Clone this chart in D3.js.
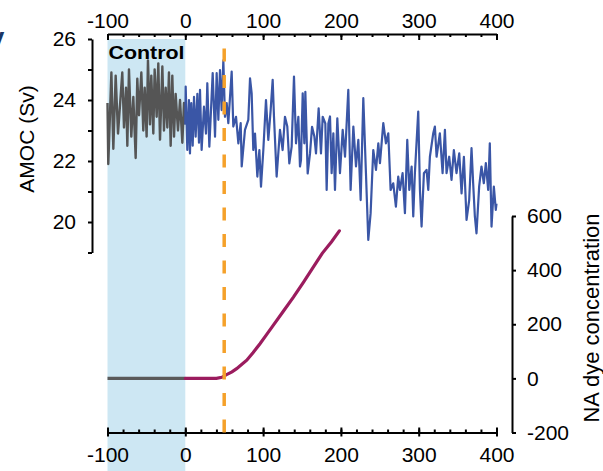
<!DOCTYPE html>
<html>
<head>
<meta charset="utf-8">
<script src="https://cdn.jsdelivr.net/npm/d3@7"></script>
<style>
  body { margin: 0; background: #fff; }
  svg text { font-family: "Liberation Sans", Arial, sans-serif; }
</style>
</head>
<body>
<div id="chart"></div>
<script>
// control run (years before perturbation), AMOC in Sv
var ctrlYear = [-100,-99,-95,-92.5,-89.5,-86.5,-81,-78.8,-76.2,-74.5,-72.4,-69.4,-66.8,-63.8,-61.7,-59.5,-56.5,-54,-52.2,-49.7,-48,-45.4,-43.7,-41.1,-39.4,-36.8,-34.7,-32.5,-29.5,-27.4,-25.2,-23.1,-21,-18.8,-16.7,-14.5,-12.4,-9.4,-6.8,-3.8,-1.7,0];
var ctrlAmoc = [23.9,21.9,24.9,22.4,24.8,22.9,24.9,23.1,24.4,22.5,25.0,22.8,24.1,22.1,24.7,23.5,24.9,23.0,24.4,22.8,25.3,23.2,24.8,22.9,25.0,23.45,25.2,22.7,25.1,23.0,24.4,23.1,24.9,22.5,24.8,22.8,24.2,23.0,24.0,22.6,23.9,23.2];

// perturbed run
var runYear = [0,0.5,2.6,4.7,6,7.7,9.5,11.2,13.3,15.5,17.6,18.9,21,24,26.6,28.3,30.9,35.2,38.2,40.3,42.5,44.6,46.7,48.9,51,53.2,55.3,59.6,61.7,65.2,68.2,71.2,72.5,76.7,81,83.2,85.3,87.4,89.6,92.6,95.2,97.3,100.3,103.7,106.7,109.7,112.3,114,117.4,121.7,125.1,128.1,131.1,133.7,136.7,139.7,142.3,145.3,147.4,148.7,150.9,153,154.3,157.3,160.3,162.9,165.9,168,171.4,174.4,176.6,180,181.7,183.9,186,188.1,190.3,192.4,195.4,198.8,202.3,205.3,209.5,212.5,216,219.4,222.4,225.4,228.8,232.2,235.2,238.2,241.6,245.1,248.1,250.2,254.5,257.9,260.9,263.9,267.3,270.7,273.7,275.9,279.3,282.3,285.3,287.9,290.9,293,295.1,299.4,301.6,303.7,306.7,310.1,312.3,314.4,318.7,320.8,323,327.2,330.7,333.7,335.8,339.2,342.2,345.2,348.6,352.1,355.1,358.1,361.5,364.9,367.9,370,372.2,374.3,377.7,380.7,383.7,386.3,389.3,391.4,393.6,396.6,399.1,400];
var runAmoc = [23.2,24.44,22.36,24.0,22.25,23.9,22.5,24.1,22.8,24.2,22.6,24.33,22.36,23.78,22.9,24.55,22.47,24.88,22.8,24.88,23.35,24.98,23.67,25.3,23.45,23.9,23.24,24.93,23.13,23.45,22.58,23.24,21.82,23.02,23.35,24.71,24.22,22.36,22.9,21.49,22.36,21.16,22.36,24.0,22.69,23.67,24.66,23.45,21.49,23.02,22.36,23.45,23.13,21.92,22.47,24.77,22.58,23.45,21.82,22.03,24.22,22.58,24.27,21.59,22.25,23.12,22.8,22.25,23.73,22.25,23.45,23.23,21.05,23.23,23.46,21.6,22.91,21.05,23.4,21.6,23.02,22.14,24.33,21.05,23.13,21.82,22.69,20.72,24.06,21.6,19.41,20.29,22.36,21.71,22.58,21.93,23.24,22.58,22.91,21.05,21.27,20.5,21.49,21.05,21.6,20.29,22.69,21.05,21.82,20.18,21.6,23.62,21.05,19.85,21.6,21.71,21.05,22.14,22.91,23.13,22.14,22.91,21.6,23.02,21.6,22.14,21.38,22.36,21.6,22.25,20.94,22.14,20.07,20.72,22.42,21.27,20.18,19.63,21.16,21.82,21.27,21.93,21.05,22.58,19.85,21.16,20.4,20.6];

// North Atlantic dye concentration
var dyeCtrlYear = [-100, 0];
var dyeCtrl = [0, 0];
var dyeYear = [0,19,30,40,47,53,60,66,72,79,87,96,104,113,126,139,152,164.5,176,188,198];
var dyeConc = [0,0,0,0,4,14,24,36,50,67,95,128,160,196,248,300,356,411,462,505,545];

var xTicks = [-100, 0, 100, 200, 300, 400];
var amocTicks = [20, 22, 24, 26];
var amocMinor = [19, 21, 23, 25];
var dyeTicks = [-200, 0, 200, 400, 600];
var perturbYear = 50;

var W = 603, H = 471;
var svg = d3.select("#chart").append("svg")
    .attr("width", W).attr("height", H);

var x = d3.scaleLinear().domain([-100, 400]).range([107.5, 496.5]);
var yA = d3.scaleLinear().domain([19, 26]).range([252.5, 39]);
var yD = d3.scaleLinear().domain([-200, 600]).range([432.5, 216]);
var topY = 34, botY = 432.5;
var plain = function(d) { return String(d); };   // hyphen minus, like the original

// control shading
svg.append("rect")
    .attr("x", x(-100)).attr("y", yA(26))
    .attr("width", x(0) - x(-100)).attr("height", H - yA(26))
    .style("fill", "#cde7f3");

svg.append("text")
    .attr("x", x(-100) + 1).attr("y", 58.5)
    .attr("textLength", 76).attr("lengthAdjust", "spacingAndGlyphs")
    .style("font-size", "18px").style("font-weight", "bold")
    .text("Control");

// cut-off panel letter on the left edge
svg.append("text").attr("x", -13).attr("y", 50)
    .style("font-size", "26px").style("font-weight", "bold").style("fill", "#1b3766")
    .text("V");

function styleAxis(g) {
  g.selectAll("path, line").style("stroke", "#000").style("stroke-width", 2);
  g.selectAll("text").style("font-size", "21px").style("fill", "#000");
}

// top axis
var topMinor = svg.append("g").attr("transform", "translate(0," + topY + ")")
    .call(d3.axisTop(x).tickValues(d3.range(-100, 401, 20)).tickSizeInner(-3).tickSizeOuter(0).tickFormat(""));
styleAxis(topMinor);
var topMajor = svg.append("g").attr("transform", "translate(0," + topY + ")")
    .call(d3.axisTop(x).tickValues(xTicks).tickSizeInner(-6).tickSizeOuter(0).tickPadding(6).tickFormat(plain));
styleAxis(topMajor);
topMajor.select(".domain").remove();

// bottom axis
var botMinor = svg.append("g").attr("transform", "translate(0," + botY + ")")
    .call(d3.axisBottom(x).tickValues(d3.range(-100, 401, 20)).tickSizeInner(-3).tickSizeOuter(0).tickFormat(""));
styleAxis(botMinor);
var botMajor = svg.append("g").attr("transform", "translate(0," + botY + ")")
    .call(d3.axisBottom(x).tickValues(xTicks).tickSizeInner(4).tickSizeOuter(0).tickPadding(11).tickFormat(plain));
styleAxis(botMajor);
botMajor.select(".domain").remove();
botMajor.selectAll(".tick line").attr("y1", -5);

// left AMOC axis
var left = svg.append("g").attr("transform", "translate(92,0)")
    .call(d3.axisLeft(yA).tickValues(amocTicks.concat(amocMinor)).tickSizeInner(4).tickSizeOuter(0).tickPadding(12)
      .tickFormat(function(d) { return amocTicks.indexOf(d) >= 0 ? String(d) : ""; }));
styleAxis(left);

// right dye axis
var right = svg.append("g").attr("transform", "translate(512,0)")
    .call(d3.axisRight(yD).tickValues(dyeTicks).tickSizeInner(4).tickSizeOuter(0).tickPadding(11).tickFormat(plain));
styleAxis(right);

svg.append("text")
    .attr("transform", "translate(34," + 139 + ") rotate(-90)")
    .attr("text-anchor", "middle").style("font-size", "21px")
    .text("AMOC (Sv)");
svg.append("text")
    .attr("transform", "translate(599," + 318 + ") rotate(-90)")
    .attr("text-anchor", "middle").style("font-size", "22px")
    .text("NA dye concentration");

// lines
var lineA = d3.line().x(function(d) { return x(d[0]); }).y(function(d) { return yA(d[1]); });
var lineD = d3.line().x(function(d) { return x(d[0]); }).y(function(d) { return yD(d[1]); });

svg.append("path").datum(d3.zip(dyeCtrlYear, dyeCtrl)).attr("d", lineD)
    .style("fill", "none").style("stroke", "#5a5a5a").style("stroke-width", 3.2);
svg.append("path").datum(d3.zip(dyeYear, dyeConc)).attr("d", lineD)
    .style("fill", "none").style("stroke", "#9b1c5e").style("stroke-width", 3.2).style("stroke-linecap", "round");

svg.append("path").datum(d3.zip(ctrlYear, ctrlAmoc)).attr("d", lineA)
    .style("fill", "none").style("stroke", "#555555").style("stroke-width", 2.4).style("stroke-linejoin", "round");
svg.append("path").datum(d3.zip(runYear, runAmoc)).attr("d", lineA)
    .style("fill", "none").style("stroke", "#3a56a6").style("stroke-width", 2.2).style("stroke-linejoin", "round");

// perturbation marker
svg.append("line")
    .attr("x1", x(perturbYear)).attr("x2", x(perturbYear))
    .attr("y1", botY).attr("y2", topY + 4)
    .style("stroke", "#f5a12a").style("stroke-width", 3.5)
    .style("stroke-dasharray", "13,13.5");
</script>
</body>
</html>
